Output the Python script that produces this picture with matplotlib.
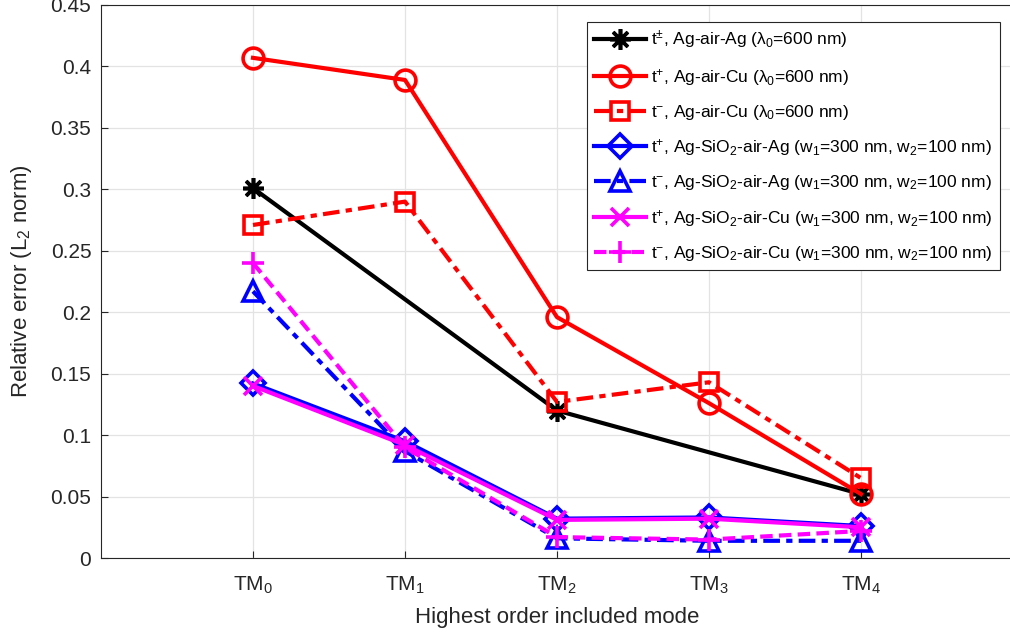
import numpy as np
import matplotlib
matplotlib.use("Agg")
import matplotlib.pyplot as plt

plt.rcParams['font.family'] = ['Liberation Sans', 'DejaVu Sans']
plt.rcParams['mathtext.fontset'] = 'custom'
plt.rcParams['mathtext.rm'] = 'Liberation Sans'
plt.rcParams['mathtext.it'] = 'Liberation Sans'
plt.rcParams['mathtext.sf'] = 'Liberation Sans'

modes = ['TM$_0$', 'TM$_1$', 'TM$_2$', 'TM$_3$', 'TM$_4$']
x_all = [0, 1, 2, 3, 4]
x_agag = [0, 2, 4]

agag_pm = [0.301, 0.120, 0.052]
agcu_plus = [0.407, 0.389, 0.196, 0.126, 0.052]
agcu_minus = [0.271, 0.290, 0.127, 0.143, 0.065]
sio2ag_plus = [0.142, 0.095, 0.032, 0.033, 0.026]
sio2ag_minus = [0.217, 0.087, 0.016, 0.014, 0.014]
sio2cu_plus = [0.140, 0.092, 0.031, 0.032, 0.025]
sio2cu_minus = [0.240, 0.090, 0.017, 0.015, 0.022]

labels = [
    r't$^{\pm}$, Ag-air-Ag ($\lambda_0$=600 nm)',
    r't$^{+}$, Ag-air-Cu ($\lambda_0$=600 nm)',
    r't$^{-}$, Ag-air-Cu ($\lambda_0$=600 nm)',
    r't$^{+}$, Ag-SiO$_2$-air-Ag (w$_1$=300 nm, w$_2$=100 nm)',
    r't$^{-}$, Ag-SiO$_2$-air-Ag (w$_1$=300 nm, w$_2$=100 nm)',
    r't$^{+}$, Ag-SiO$_2$-air-Cu (w$_1$=300 nm, w$_2$=100 nm)',
    r't$^{-}$, Ag-SiO$_2$-air-Cu (w$_1$=300 nm, w$_2$=100 nm)',
]

fig = plt.figure(figsize=(10.10, 6.36), dpi=100)
ax = fig.add_axes([101/1010, 78/636, 912/1010, 553/636])

lw = 3.0
mew = 2.6
ms = 15
ax.plot(x_agag, agag_pm, color='black', lw=lw, ls='-', marker=(8, 2, 0), ms=ms, mew=mew, label=labels[0])
ax.plot(x_all, agcu_plus, color='#ff0000', lw=lw, ls='-', marker='o', ms=ms, mew=mew, mfc='none', label=labels[1])
ax.plot(x_all, agcu_minus, color='#ff0000', lw=lw, ls=(0, (4, 1.5, 1.5, 1.5)), marker='s', ms=ms*0.85, mew=mew, mfc='none', label=labels[2])
ax.plot(x_all, sio2ag_plus, color='#0000ff', lw=lw, ls='-', marker='D', ms=ms*0.8, mew=mew, mfc='none', label=labels[3])
ax.plot(x_all, sio2ag_minus, color='#0000ff', lw=lw, ls=(0, (4, 1.5, 1.5, 1.5)), marker='^', ms=ms, mew=mew, mfc='none', label=labels[4])
ax.plot(x_all, sio2cu_plus, color='#ff00ff', lw=lw, ls='-', marker='x', ms=ms*0.9, mew=mew, label=labels[5])
ax.plot(x_all, sio2cu_minus, color='#ff00ff', lw=lw, ls=(0, (3, 1.5)), marker='+', ms=ms*1.1, mew=mew, label=labels[6])

ax.set_xlim(-1, 5)
ax.set_ylim(0, 0.45)
ax.set_xticks(x_all)
ax.set_xticklabels(modes)
ax.set_yticks(np.arange(0, 0.451, 0.05))
ax.set_yticklabels(['0', '0.05', '0.1', '0.15', '0.2', '0.25', '0.3', '0.35', '0.4', '0.45'])
ax.grid(True, color='#e3e3e3', lw=0.9)
ax.set_axisbelow(True)
ax.tick_params(direction='in', labelsize=15, colors='#262626', length=5, width=0.8, pad=7)
ax.tick_params(axis='x', pad=12)
for s in ax.spines.values():
    s.set_color('#262626')
    s.set_linewidth(0.8)

ax.set_xlabel('Highest order included mode', fontsize=16, color='#262626', labelpad=8)
ax.set_ylabel('Relative error (L$_2$ norm)', fontsize=16, color='#262626', labelpad=12)

leg = ax.legend(loc='upper right', bbox_to_anchor=((1000 - 101) / 912, 1 - 17 / 553), fontsize=12.5,
                handlelength=3.0, handletextpad=0.3, borderpad=0.4, labelspacing=0.88,
                fancybox=False, framealpha=1, edgecolor='#262626', borderaxespad=0)
leg.get_frame().set_linewidth(0.8)

fig.savefig('out.png', dpi=100)
